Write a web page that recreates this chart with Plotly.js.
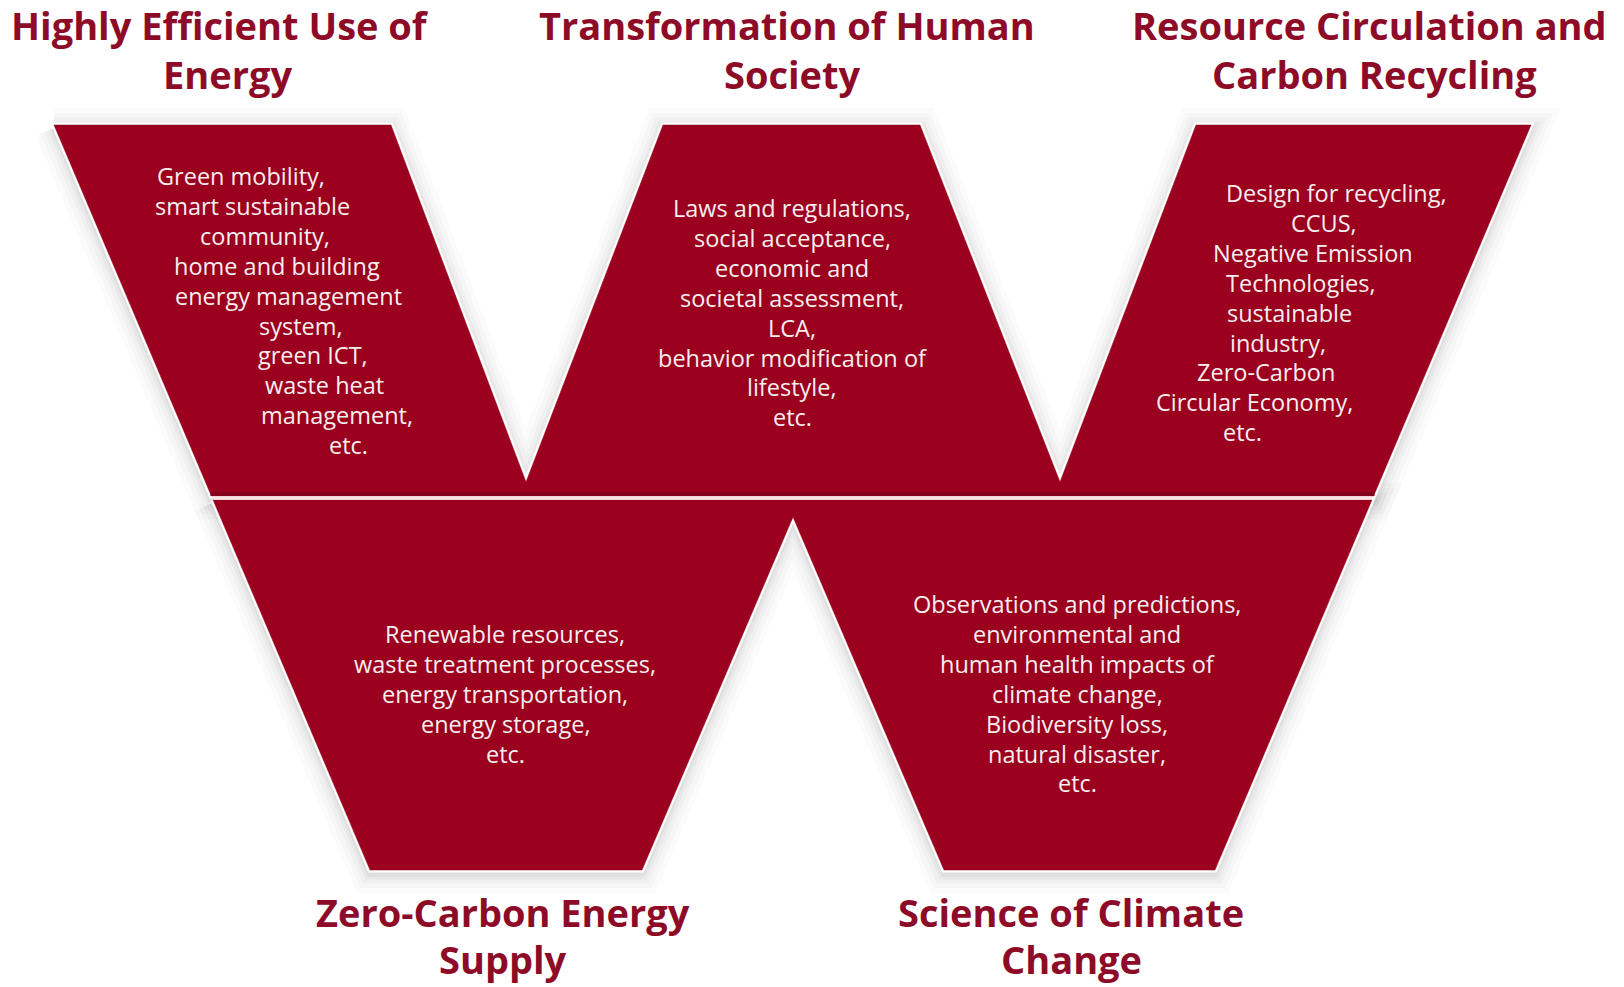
<!DOCTYPE html>
<html>
<head>
<meta charset="utf-8">
<script src="https://cdn.plot.ly/plotly-3.0.1.min.js"></script>
<style>
  html, body { margin: 0; padding: 0; background: #ffffff; }
  #chart { width: 1624px; height: 987px; }
</style>
</head>
<body>
<div id="chart"></div>
<script>
// ---------- content ----------
const topTitles = [
  ["Highly Efficient Use of", "Energy"],
  ["Transformation of Human", "Society"],
  ["Resource Circulation and", "Carbon Recycling"]
];
const bottomTitles = [
  ["Zero-Carbon Energy", "Supply"],
  ["Science of Climate", "Change"]
];
const efficientUseItems = [
  "Green mobility,", "smart sustainable", "community,", "home and building",
  "energy management", "system,", "green ICT,", "waste heat", "management,", "etc."
];
const humanSocietyItems = [
  "Laws and regulations,", "social acceptance,", "economic and",
  "societal assessment,", "LCA,", "behavior modification of", "lifestyle,", "etc."
];
const resourceItems = [
  "Design for recycling,", "CCUS,", "Negative Emission", "Technologies,",
  "sustainable", "industry,", "Zero-Carbon", "Circular Economy,", "etc."
];
const energySupplyItems = [
  "Renewable resources,", "waste treatment processes,", "energy transportation,",
  "energy storage,", "etc."
];
const climateItems = [
  "Observations and predictions,", "environmental and", "human health impacts of",
  "climate change,", "Biodiversity loss,", "natural disaster,", "etc."
];

// ---------- geometry (pixel space: x 0..1624, y 0..987 downward) ----------
const W = 1624, H = 987;
const bandTop = 125, bandMid1 = 496, bandMid2 = 500, bandBottom = 870;
const outerSlope = 0.4242;            // dx per dy of outer edges
const leftTopX = 54, rightTopX = 1531;
const notchTipY = 482, peakY = 517;

function leftEdge(y)  { return leftTopX + outerSlope * (y - bandTop); }
function rightEdge(y) { return rightTopX - outerSlope * (y - bandTop); }

const upperPoly = [
  [leftTopX, bandTop], [391, bandTop], [526, notchTipY], [663, bandTop],
  [920, bandTop], [1060, notchTipY], [1196, bandTop], [rightTopX, bandTop],
  [rightEdge(bandMid1), bandMid1], [leftEdge(bandMid1), bandMid1]
];
const lowerPoly = [
  [leftEdge(bandMid2), bandMid2], [rightEdge(bandMid2), bandMid2],
  [rightEdge(bandBottom), bandBottom], [944, bandBottom], [793, peakY],
  [642, bandBottom], [leftEdge(bandBottom), bandBottom]
];

const RED = "#9b001e";
const TITLE_RED = "#8e0b28";
const TEXT_WHITE = "#f7eef0";

function closed(poly) {
  const xs = poly.map(p => p[0]); const ys = poly.map(p => p[1]);
  xs.push(poly[0][0]); ys.push(poly[0][1]);
  return {x: xs, y: ys};
}

const traces = [];
// soft shadow
[[40, 0.02], [30, 0.025], [21, 0.03], [13, 0.04], [7, 0.05]].forEach(([w, a]) => {
  [upperPoly, lowerPoly].forEach(poly => {
    const c = closed(poly);
    traces.push({
      type: "scatter", mode: "lines", x: c.x, y: c.y.map(v => v + 3),
      line: {color: `rgba(60,60,60,${a})`, width: w, shape: "linear"},
      hoverinfo: "skip", showlegend: false
    });
  });
});
// white rim
[upperPoly, lowerPoly].forEach(poly => {
  const c = closed(poly);
  traces.push({
    type: "scatter", mode: "lines", x: c.x, y: c.y,
    line: {color: "#ffffff", width: 5}, hoverinfo: "skip", showlegend: false
  });
});
// red fills
[upperPoly, lowerPoly].forEach(poly => {
  const c = closed(poly);
  traces.push({
    type: "scatter", mode: "lines", x: c.x, y: c.y, fill: "toself",
    fillcolor: RED, line: {color: RED, width: 0.5},
    hoverinfo: "skip", showlegend: false
  });
});
// darker strip at bottom of upper band
traces.push({
  type: "scatter", mode: "lines",
  x: [leftEdge(bandMid1 - 2), rightEdge(bandMid1 - 2)], y: [bandMid1 - 2, bandMid1 - 2],
  line: {color: "#85001a", width: 4}, hoverinfo: "skip", showlegend: false
});
// separating light line
traces.push({
  type: "scatter", mode: "lines",
  x: [leftEdge(498), rightEdge(498)], y: [498, 498],
  line: {color: "#fbe3e6", width: 3}, hoverinfo: "skip", showlegend: false
});

// ---------- annotations ----------
const annotations = [];
const FONT = "'Open Sans', Roboto, 'DejaVu Sans', sans-serif";
const titleFont = {family: FONT, size: 38, color: TITLE_RED, weight: 700};
const titleSpots = [[220, 227], [787, 792], [1369, 1374]];
const titleRows = [25, 74];
topTitles.forEach((pair, i) => {
  pair.forEach((t, j) => {
    annotations.push({
      text: "<b>" + t + "</b>", x: titleSpots[i][j], y: titleRows[j],
      xref: "x", yref: "y", showarrow: false, xanchor: "center", yanchor: "middle",
      font: titleFont
    });
  });
});
const bottomSpots = [503, 1071];
const bottomRows = [912, 959];
bottomTitles.forEach((pair, i) => {
  pair.forEach((t, j) => {
    annotations.push({
      text: "<b>" + t + "</b>", x: bottomSpots[i], y: bottomRows[j],
      xref: "x", yref: "y", showarrow: false, xanchor: "center", yanchor: "middle",
      font: titleFont
    });
  });
});

const bodyFont = {family: FONT, size: 23.5, color: TEXT_WHITE};
const lineStep = 29.9;
function addBlock(lines, x0, dx, y0) {
  lines.forEach((ln, i) => {
    annotations.push({
      text: ln, x: x0 + dx * i, y: y0 + lineStep * i, xref: "x", yref: "y",
      showarrow: false, xanchor: "center", yanchor: "middle", font: bodyFont
    });
  });
}
addBlock(efficientUseItems, 241, 11.95, 176);
addBlock(humanSocietyItems, 792, 0, 208);
addBlock(resourceItems, 1336, -11.65, 193);
addBlock(energySupplyItems, 505, 0, 634);
addBlock(climateItems, 1077, 0, 604);

const layout = {
  width: W, height: H,
  margin: {l: 0, r: 0, t: 0, b: 0},
  paper_bgcolor: "#ffffff", plot_bgcolor: "#ffffff",
  xaxis: {range: [0, W], visible: false, fixedrange: true},
  yaxis: {range: [H, 0], visible: false, fixedrange: true},
  showlegend: false,
  annotations: annotations
};

Plotly.newPlot("chart", traces, layout, {staticPlot: true, displayModeBar: false});
</script>
</body>
</html>
